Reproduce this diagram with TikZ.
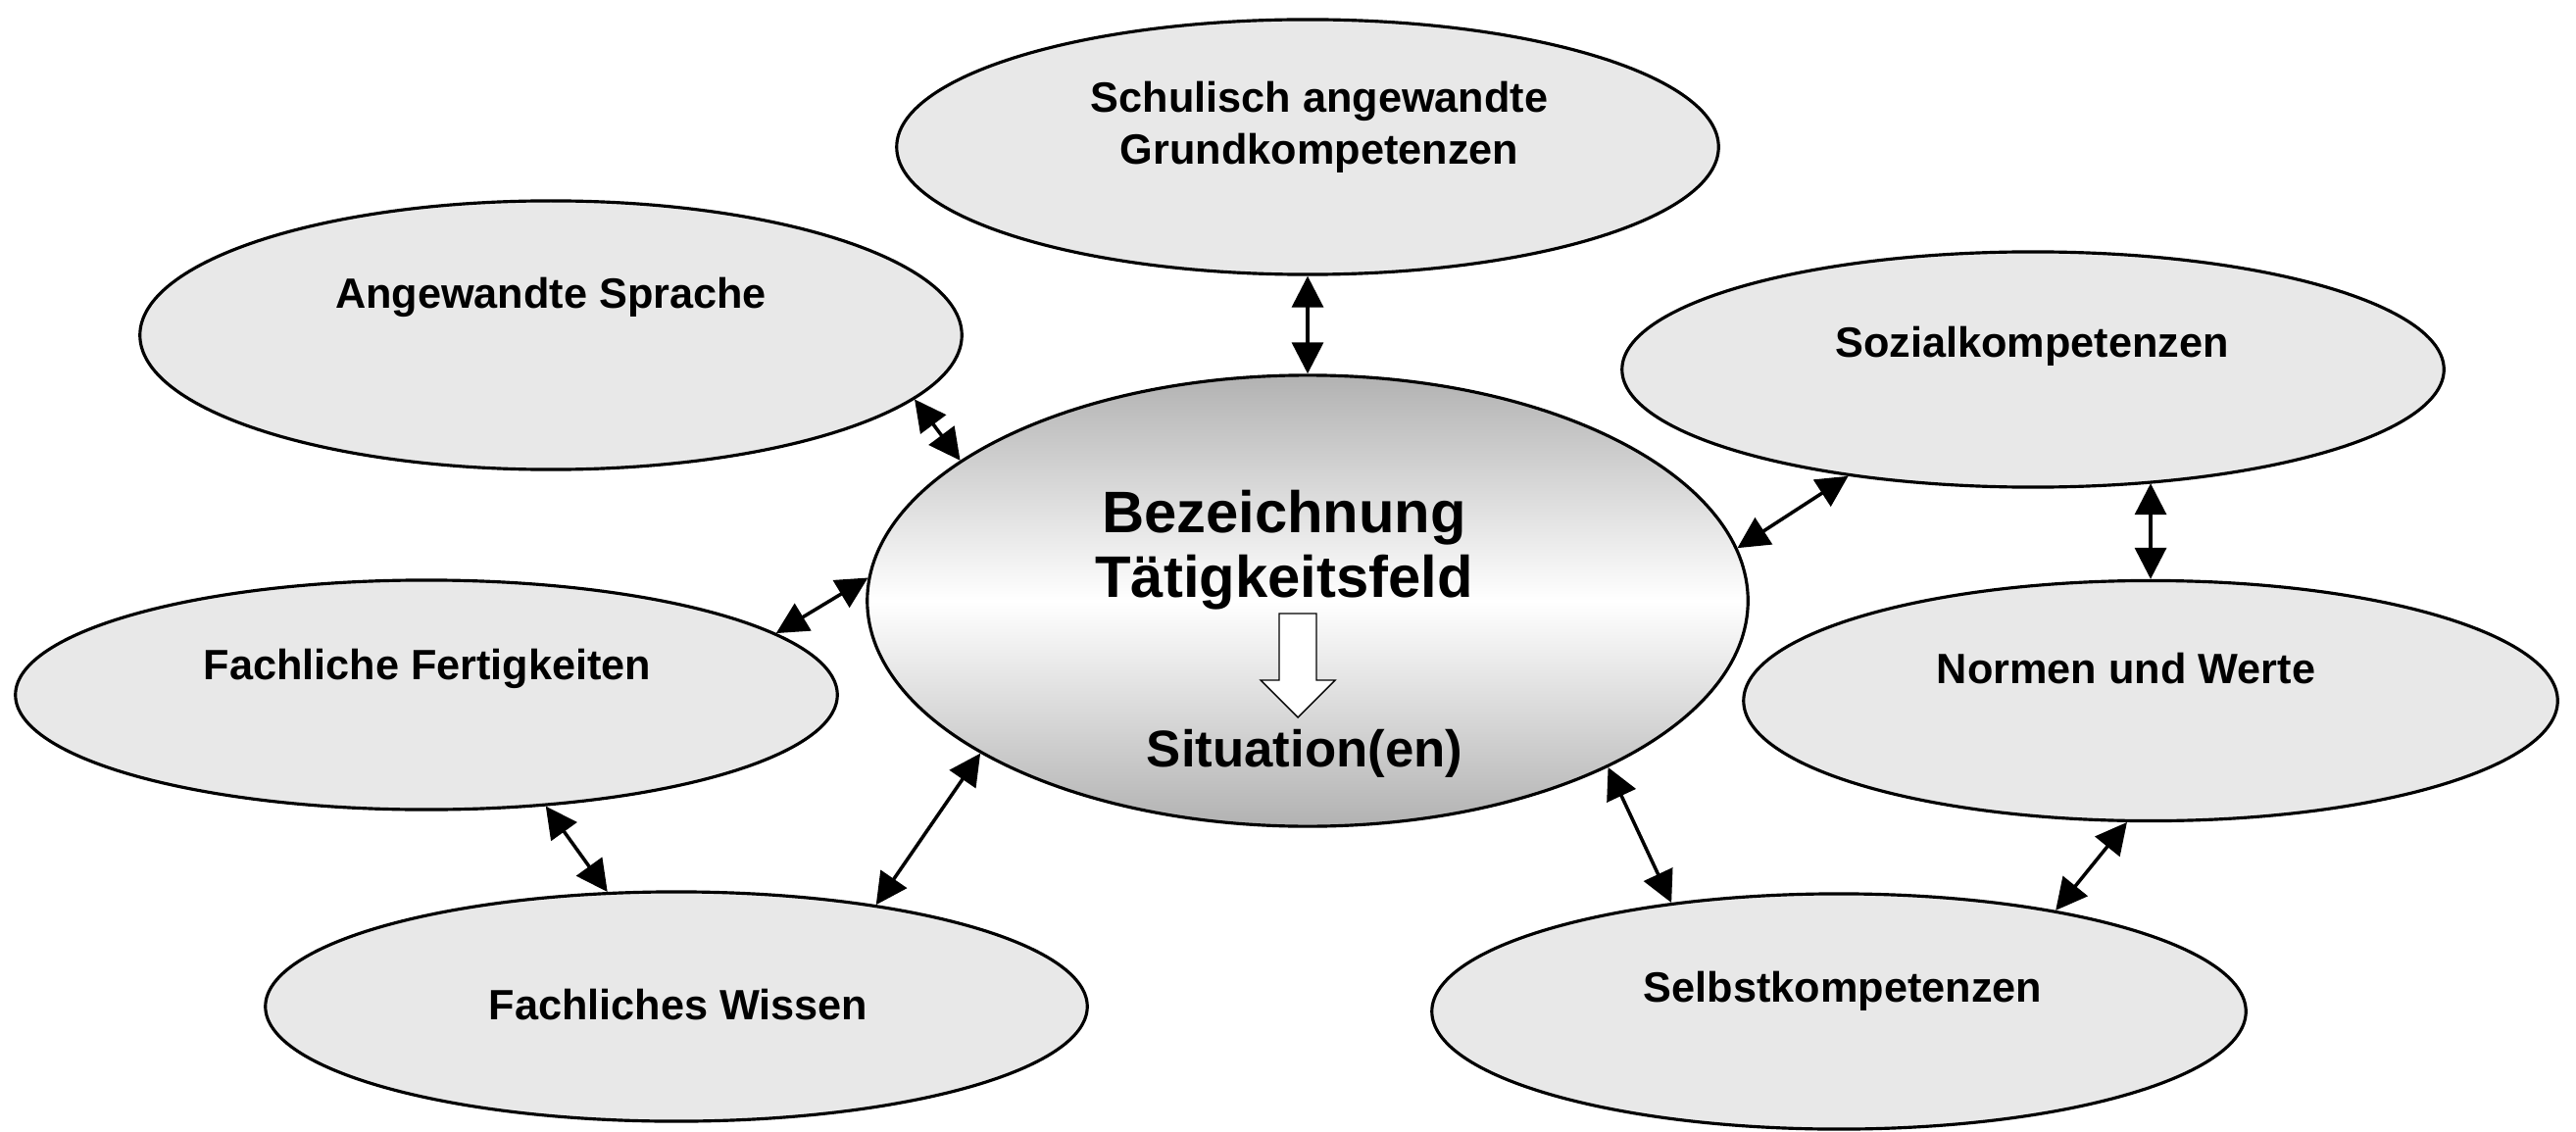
\documentclass[tikz,border=0pt]{standalone}
\usepackage{fontspec}
\setmainfont{Liberation Sans}
\usetikzlibrary{arrows.meta,shapes.geometric,positioning}
\definecolor{bubble}{HTML}{E8E8E8}
\definecolor{kern}{HTML}{B2B2B2}
\tikzset{
  feld/.style={
    ellipse, draw=black, fill=bubble, line width=0.9pt,
    inner sep=0pt, minimum width=8.38cm
  },
  mitte/.style={
    ellipse, draw=black, line width=0.9pt, inner sep=0pt,
    top color=kern, bottom color=kern, middle color=white
  },
  beschr/.style={
    inner sep=0pt, align=center,
    font=\fontsize{12.3}{15.1}\selectfont\bfseries
  },
  titel/.style={
    inner sep=0pt, align=center,
    font=\fontsize{17}{19}\selectfont\bfseries
  },
  wechsel/.style={<->, >={Triangle[length=3.2mm,width=3.2mm]}, line width=1pt},
  hohl/.style={draw=black, fill=white, line width=0.4pt}
}

\begin{document}
\begin{tikzpicture}[x=0.01cm, y=-0.01cm]
  \useasboundingbox (0,0) rectangle (2628,1155);

  % Mitte
  \node[mitte, minimum width=8.98cm, minimum height=4.6cm] (zentrum) at (1334,613) {};

  % Felder ringsum
  \node[feld, minimum height=2.6cm]  (schule)  at (1334,150) {};
  \node[feld, minimum height=2.74cm] (sprache) at (562,342)  {};
  \node[feld, minimum height=2.4cm]  (sozial)  at (2074,377) {};
  \node[feld, minimum height=2.34cm] (fertig)  at (435,709)  {};
  \node[feld, minimum height=2.45cm, minimum width=8.3cm] (normen) at (2194,715) {};
  \node[feld, minimum height=2.34cm] (wissen)  at (690,1027) {};
  \node[feld, minimum height=2.4cm, minimum width=8.3cm]  (selbst) at (1876,1032) {};

  % Beschriftungen
  \node[beschr, anchor=north] (schuleT)  at (1346,82)  {Schulisch angewandte\\Grundkompetenzen};
  \node[beschr, anchor=base]  (spracheT) at (562,315)  {Angewandte Sprache};
  \node[beschr, anchor=base]  (sozialT)  at (2073,365) {Sozialkompetenzen};
  \node[beschr, anchor=base]  (fertigT)  at (436,693)  {Fachliche Fertigkeiten};
  \node[beschr, anchor=base]  (normenT)  at (2169,697) {Normen und Werte};
  \node[beschr, anchor=base]  (wissenT)  at (692,1040) {Fachliches Wissen};
  \node[beschr, anchor=base]  (selbstT)  at (1880,1022) {Selbstkompetenzen};

  \node[titel, anchor=north] (bezeichnung) at (1310,499) {Bezeichnung\\Tätigkeitsfeld};
  \node[inner sep=0pt, anchor=base, font=\fontsize{15}{18}\selectfont\bfseries]
    (situation) at (1331,782) {Situation(en)};

  % hohler Pfeil
  \coordinate (pfeil) at (1324,626);
  \draw[hohl] ([xshift=-0.19cm]pfeil) -- ++(0,68) -- ++(-19,0) -- ++(38,38)
    -- ++(38,-38) -- ++(-19,0) -- ++(0,-68) -- cycle;

  % Verbindungen
  \draw[wechsel] (schule.south)     -- (zentrum.north);
  \draw[wechsel] (sprache.-10.8)    -- (zentrum.158.1);
  \draw[wechsel] (sozial.-150.4)    -- (zentrum.7.3);
  \draw[wechsel] (normen.north |- sozial.-43.8) -- (normen.north);
  \draw[wechsel] (fertig.10.8)      -- (zentrum.177);
  \draw[wechsel] (fertig.-43.1)     -- (wissen.121.6);
  \draw[wechsel] (zentrum.-155)     -- (wissen.27);
  \draw[wechsel] (zentrum.-29.2)    -- (selbst.147.4);
  \draw[wechsel] (normen.-101.8)    -- (selbst.25.5);
\end{tikzpicture}
\end{document}
